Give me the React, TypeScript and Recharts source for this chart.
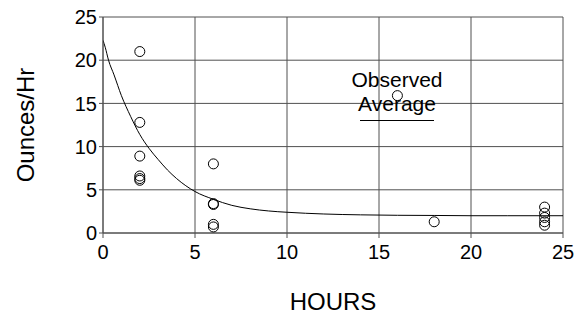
import { ComposedChart, Line, Scatter, XAxis, YAxis, CartesianGrid, Label } from 'recharts';

// observed feeding rates
const obsHours = [2, 2, 2, 2, 2, 2, 6, 6, 6, 6, 6, 16, 18, 24, 24, 24, 24, 24];
const obsRate = [21, 12.8, 8.9, 6.6, 6.3, 6.1, 8.0, 3.4, 3.3, 1.0, 0.7, 15.9, 1.3, 3.0, 2.3, 1.8, 1.3, 0.9];

// average curve
const fitHours = [0, 0.12, 0.3, 0.6, 1, 1.5, 2, 2.5, 3, 3.5, 4, 5, 6, 7, 8, 9, 10, 12, 14, 16, 18, 20, 22, 25];
const fitRate = [22.3, 21.5, 20.0, 18.3, 15.9, 13.5, 11.4, 9.8, 8.5, 7.3, 6.3, 4.8, 3.9, 3.2, 2.8, 2.55, 2.4, 2.2, 2.1, 2.05, 2.03, 2.0, 2.0, 2.0];

const xTicks = [0, 5, 10, 15, 20, 25];
const yTicks = [0, 5, 10, 15, 20, 25];

const FONT = 'Arial, "Liberation Sans", sans-serif';
const GRID = '#505050';

const observed = obsHours.map((h, i) => ({ h, rate: obsRate[i] }));
const fit = fitHours.map((h, i) => ({ h, rate: fitRate[i] }));

function OpenCircle(props: any) {
  const { cx, cy } = props;
  if (cx == null || cy == null) return null;
  return <circle cx={cx} cy={cy} r={5} fill="none" stroke="#000" strokeWidth={1} />;
}

function YTitle(props: any) {
  const { viewBox } = props;
  const cx = viewBox.x + 25;
  const cy = viewBox.y + viewBox.height / 2;
  return (
    <text
      x={cx}
      y={cy}
      transform={`rotate(-90 ${cx} ${cy})`}
      textAnchor="middle"
      dominantBaseline="central"
      fontFamily={FONT}
      fontSize={24}
      fill="#000"
    >
      Ounces/Hr
    </text>
  );
}

function XTitle(props: any) {
  const { viewBox } = props;
  const cx = viewBox.x + viewBox.width / 2;
  const cy = viewBox.y + 68;
  return (
    <text x={cx} y={cy} textAnchor="middle" dominantBaseline="central" fontFamily={FONT} fontSize={24} fill="#000">
      HOURS
    </text>
  );
}

// "Observed Average" key sitting inside the plot
function KeyBox() {
  return (
    <div
      style={{
        position: 'absolute',
        left: 340,
        top: 68,
        width: 114,
        fontFamily: FONT,
        fontSize: 21,
        lineHeight: '24px',
        color: '#000',
        textAlign: 'center',
        pointerEvents: 'none',
      }}
    >
      <div>Observed</div>
      <div>Average</div>
      <div style={{ margin: '4px auto 0', width: 74, height: 1, background: '#000' }} />
    </div>
  );
}

export default function App() {
  return (
    <div style={{ position: 'absolute', left: 0, top: 0, width: 581, height: 318, background: '#fff' }}>
      <ComposedChart width={581} height={318} margin={{ top: 17, right: 18, left: 0, bottom: 0 }}>
        <CartesianGrid stroke={GRID} strokeWidth={1} />
        <XAxis
          dataKey="h"
          type="number"
          domain={[0, 25]}
          ticks={xTicks}
          height={85}
          stroke={GRID}
          tickSize={5}
          tickMargin={7}
          tick={{ fill: '#000', fontSize: 20, fontFamily: FONT }}
          allowDataOverflow
        >
          <Label content={<XTitle />} />
        </XAxis>
        <YAxis
          type="number"
          domain={[0, 25]}
          ticks={yTicks}
          width={103}
          stroke={GRID}
          tickSize={4}
          tickMargin={2}
          tick={{ fill: '#000', fontSize: 20, fontFamily: FONT }}
          allowDataOverflow
        >
          <Label content={<YTitle />} />
        </YAxis>
        <Line
          data={fit}
          dataKey="rate"
          type="monotone"
          stroke="#000"
          strokeWidth={1}
          dot={false}
          isAnimationActive={false}
        />
        <Scatter data={observed} dataKey="rate" shape={<OpenCircle />} isAnimationActive={false} />
      </ComposedChart>
      <KeyBox />
    </div>
  );
}
